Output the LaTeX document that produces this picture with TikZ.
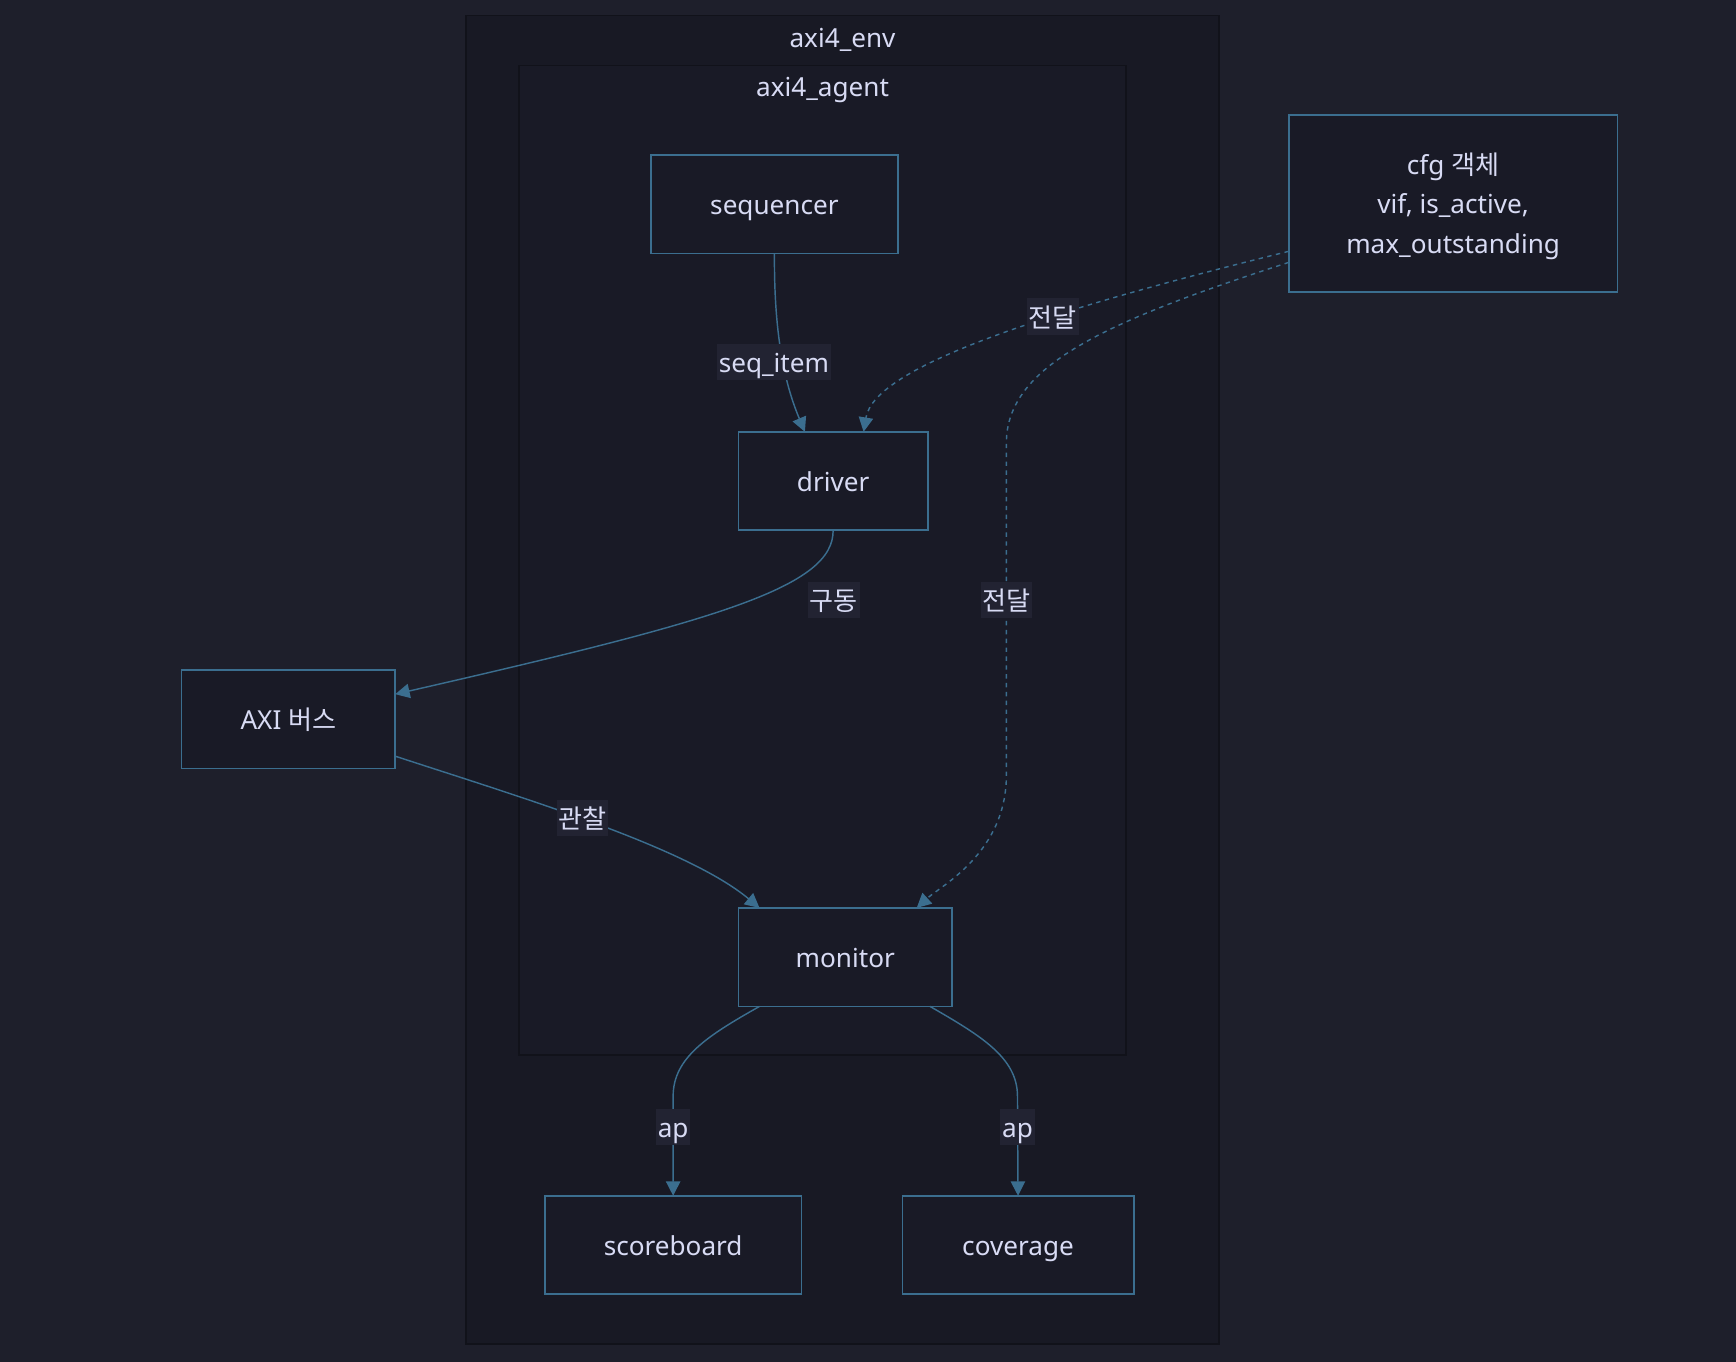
\documentclass[tikz,border=0pt]{standalone}
\usepackage{fontspec}
\setmainfont{Noto Sans}
\newfontfamily\kr{Noto Sans CJK KR}
\usetikzlibrary{arrows.meta,calc}
\definecolor{pagebg}{HTML}{1E1F2B}
\definecolor{envfill}{HTML}{181924}
\definecolor{envline}{HTML}{11121A}
\definecolor{agentfill}{HTML}{191A26}
\definecolor{nodefill}{HTML}{191A26}
\definecolor{edgecol}{HTML}{3B6E8F}
\definecolor{txtcol}{HTML}{D8DBF4}
\definecolor{lblbg}{HTML}{222332}
\begin{document}
\begin{tikzpicture}[x=0.5pt,y=-0.5pt,
  every node/.style={text=txtcol, font=\fontsize{11.8}{14}\selectfont, inner sep=0pt, outer sep=0pt},
  group/.style={draw=envline, line width=0.7pt, fill=#1},
  box/.style={draw=edgecol, line width=0.75pt, fill=nodefill, minimum height=44.5pt},
  onel/.style={text height=10pt, text depth=0.5pt},
  conn/.style={draw=edgecol, line width=0.65pt, -{Triangle[length=6.5pt,width=6.5pt]}},
  dconn/.style={conn, dash pattern=on 2pt off 2pt},
  lbl/.style={fill=lblbg, inner xsep=0.8pt, minimum height=16.5pt, onel}]
\fill[pagebg] (0,0) rectangle (1568,1230);
\useasboundingbox (0,0) rectangle (1568,1230);

% containers
\node[group=envfill, minimum width=340pt, minimum height=600pt] (env) at (761,614) {};
\node[onel] (envt) at (761,33) {axi4\_env};
\node[group=agentfill, minimum width=274pt, minimum height=447pt] (agent) at (743,506) {};
\node[onel] (agentt) at (743,78) {axi4\_agent};

% nodes
\node[box, onel, minimum width=111.5pt] (seq) at (699.5,184.5) {sequencer};
\node[box, onel, minimum width=85.5pt] (drv) at (752.5,434.5) {driver};
\node[box, onel, minimum width=96.5pt] (axi) at (260.5,649.5) {AXI {\kr 버스}};
\node[box, onel, minimum width=96.5pt] (mon) at (763.5,864.5) {monitor};
\node[box, onel, minimum width=116pt] (sb) at (608,1124.5) {scoreboard};
\node[box, onel, minimum width=104.5pt] (cov) at (919.5,1124.5) {coverage};
\node[box, minimum width=148.5pt, minimum height=80pt, align=center,
      font=\fontsize{11.8}{17.75}\selectfont] (cfg) at (1312.5,184)
      {\rule{0pt}{12pt}cfg {\kr 객체}\\vif, is\_active,\\max\_outstanding};

% connectors
\draw[conn] (seq.south) .. controls (699,300) and (708,345) .. ($(drv.north)+(-25.5,0)$);
\draw[dconn] ($(cfg.west)+(0,43)$) .. controls (950,280) and (790,330) .. ($(drv.north)+(27.5,0)$);
\draw[dconn] ($(cfg.west)+(0,53)$) .. controls (1000,290) and (909,330) .. (909,400)
   -- (909,700) .. controls (909,770) and (850,800) .. ($(mon.north)+(64.5,0)$);
\draw[conn] (drv.south) .. controls (753,530) and (650,560) .. ($(axi.east)+(0,-22.5)$);
\draw[conn] ($(axi.east)+(0,33.5)$) .. controls (470,720) and (620,765) .. ($(mon.north)+(-77.5,0)$);
\draw[conn] ($(mon.south)+(-77.5,0)$) .. controls (640,935) and (608,955) .. (608,990) -- (sb.north);
\draw[conn] ($(mon.south)+(76.5,0)$) .. controls (885,935) and (919,955) .. (919,990) -- (cov.north);

% labels
\node[lbl] (l1) at (699,327) {seq\_item};
\node[lbl] (l2) at (951,286) {\kr 전달};
\node[lbl] (l3) at (753,542) {\kr 구동};
\node[lbl] (l4) at (909,542) {\kr 전달};
\node[lbl] (l5) at (526,739) {\kr 관찰};
\node[lbl] (l6) at (608,1018) {ap};
\node[lbl] (l7) at (919,1018) {ap};
\end{tikzpicture}
\end{document}
